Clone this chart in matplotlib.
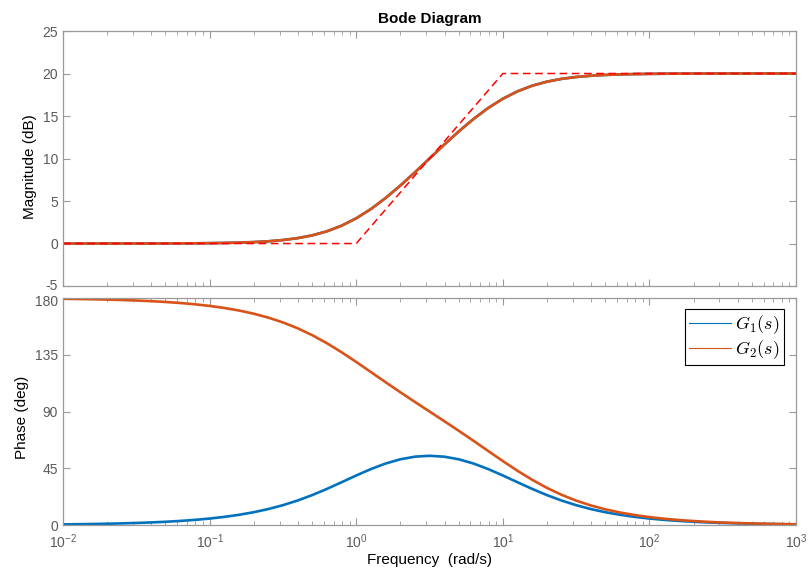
import matplotlib
matplotlib.use("Agg")
import matplotlib.pyplot as plt
import matplotlib.transforms as mtransforms
from matplotlib.lines import Line2D
from matplotlib.ticker import LogLocator, NullFormatter

plt.rcParams['font.family'] = ['Liberation Sans', 'DejaVu Sans']
plt.rcParams['mathtext.fontset'] = 'cm'
plt.rcParams['axes.unicode_minus'] = False

# frequency samples (rad/s), 10 per decade, and values
freq = [0.01, 0.01259, 0.01585, 0.01995, 0.02512, 0.03162, 0.03981, 0.05012, 0.0631, 0.07943,
        0.1, 0.1259, 0.1585, 0.1995, 0.2512, 0.3162, 0.3981, 0.5012, 0.631, 0.7943,
        1, 1.259, 1.585, 1.995, 2.512, 3.162, 3.981, 5.012, 6.31, 7.943,
        10, 12.59, 15.85, 19.95, 25.12, 31.62, 39.81, 50.12, 63.1, 79.43,
        100, 125.9, 158.5, 199.5, 251.2, 316.2, 398.1, 501.2, 631, 794.3, 1000]
mag_db = [0.0004, 0.0007, 0.0011, 0.0017, 0.0027, 0.0043, 0.0069, 0.0109, 0.0173, 0.0273,
          0.0428, 0.0676, 0.1067, 0.1678, 0.263, 0.4096, 0.6321, 0.9623, 1.4382, 2.0971,
          2.9671, 4.0561, 5.3477, 6.8037, 8.3732, 10.0, 11.6268, 13.1963, 14.6523, 15.9439,
          17.0329, 17.9029, 18.5618, 19.0377, 19.3679, 19.5904, 19.737, 19.8322, 19.8933, 19.9324,
          19.9572, 19.9727, 19.9827, 19.9891, 19.9931, 19.9957, 19.9973, 19.9983, 19.9989, 19.9993, 19.9996]
phase_g1 = [0.516, 0.649, 0.817, 1.029, 1.295, 1.63, 2.052, 2.582, 3.249, 4.087,
            5.138, 6.454, 8.098, 10.141, 12.661, 15.737, 19.428, 23.75, 28.64, 33.919,
            39.289, 44.364, 48.744, 52.097, 54.192, 54.903, 54.192, 52.097, 48.744, 44.364,
            39.289, 33.919, 28.64, 23.75, 19.428, 15.737, 12.661, 10.141, 8.098, 6.454,
            5.138, 4.087, 3.249, 2.582, 2.052, 1.63, 1.295, 1.029, 0.817, 0.649, 0.516]
phase_g2 = [179.37, 179.207, 179.001, 178.743, 178.417, 178.008, 177.492, 176.844, 176.028, 175.003,
            173.717, 172.103, 170.086, 167.573, 164.461, 160.641, 156.012, 150.511, 144.14, 136.997,
            129.289, 121.286, 113.244, 105.336, 97.608, 90.0, 82.392, 74.664, 66.756, 58.714,
            50.711, 43.003, 35.86, 29.489, 23.988, 19.359, 15.539, 12.427, 9.914, 7.897,
            6.283, 4.997, 3.972, 3.156, 2.508, 1.992, 1.583, 1.257, 0.999, 0.793, 0.63]

# straight-line asymptote
asym_freq = [0.01, 1, 10, 1000]
asym_db = [0, 0, 20, 20]

blue = '#0072BD'
orange = '#D95319'
spine_c = '#9a9a9a'
tick_c = '#5a5a5a'

fig = plt.figure(figsize=(8.09, 5.70), dpi=100)
ax1 = fig.add_axes([0.0779, 0.4982, 0.9061, 0.4474])
ax2 = fig.add_axes([0.0779, 0.0789, 0.9061, 0.3983])

ax1.semilogx(freq, mag_db, color=blue, lw=1.9)
ax1.semilogx(freq, mag_db, color=orange, lw=1.9)
ax1.semilogx(asym_freq, asym_db, 'r--', lw=1.1, dashes=(5, 3))
ax1.set_ylim(-5, 25)
ax1.set_yticks([-5, 0, 5, 10, 15, 20, 25])
ax1.set_ylabel('Magnitude (dB)', fontsize=11)
ax1.yaxis.label.set_y(0.47)
ax1.set_title('Bode Diagram', fontsize=11, fontweight='bold', pad=6)
ax1.tick_params(labelbottom=False)

ax2.semilogx(freq, phase_g1, color=blue, lw=1.9)
ax2.semilogx(freq, phase_g2, color=orange, lw=1.9)
ax2.set_ylim(0, 180)
ax2.set_yticks([0, 45, 90, 135, 180])
ax2.set_ylabel('Phase (deg)', fontsize=11)
ax2.yaxis.label.set_y(0.476)
ax2.set_xlabel('Frequency  (rad/s)', fontsize=11, labelpad=2)

for ax in (ax1, ax2):
    ax.set_xlim(0.01, 1000)
    ax.xaxis.set_major_locator(LogLocator(base=10, numticks=10))
    ax.xaxis.set_minor_locator(LogLocator(base=10, subs=range(2, 10), numticks=10))
    ax.xaxis.set_minor_formatter(NullFormatter())
    ax.tick_params(which='both', direction='in', top=True, right=True,
                   colors=spine_c, labelcolor=tick_c, labelsize=10)
    ax.tick_params(which='major', length=5, width=0.8)
    ax.tick_params(which='minor', length=3, width=0.6)
    ax.tick_params(axis='x', pad=5)
    for s in ax.spines.values():
        s.set_color(spine_c)
        s.set_linewidth(0.9)

# nudge the touching -5 / 180 labels apart a little, as in the original
fig.canvas.draw()
ax1.get_yticklabels()[0].set_transform(
    ax1.get_yticklabels()[0].get_transform()
    + mtransforms.ScaledTranslation(0, 2 / 100, fig.dpi_scale_trans))
ax2.get_yticklabels()[-1].set_transform(
    ax2.get_yticklabels()[-1].get_transform()
    + mtransforms.ScaledTranslation(0, -3 / 100, fig.dpi_scale_trans))

handles = [Line2D([], [], color=blue, lw=0.8), Line2D([], [], color=orange, lw=0.8)]
leg = ax2.legend(handles, [r'$G_1(s)$', r'$G_2(s)$'], loc='upper right',
                 bbox_to_anchor=(0.9836, 0.9515), borderaxespad=0, fontsize=13,
                 fancybox=False, framealpha=1, edgecolor='black', handlelength=2.3,
                 handletextpad=0.25, borderpad=0.25, labelspacing=0.1)
leg.get_frame().set_linewidth(0.8)

fig.savefig('out.png', dpi=100)
